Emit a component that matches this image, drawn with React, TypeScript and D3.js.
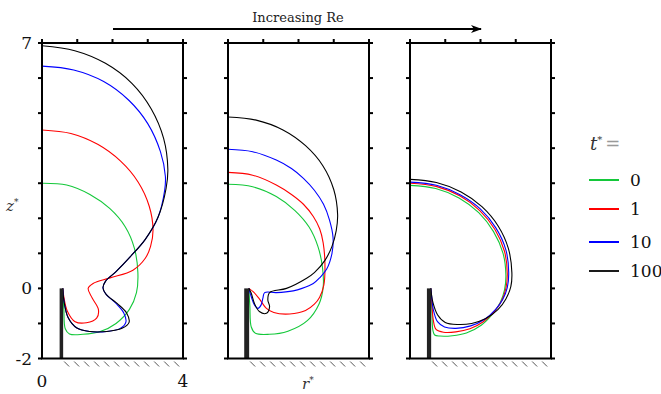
import React from "react";
import * as d3 from "d3";

type P = [number, number];

const xTicks = [0, 1, 2, 3, 4];
const yTicks = [-2, -1, 0, 1, 2, 3, 4, 5, 6, 7];
const xTickLabels = ["0", "4"];
const yTickLabels = ["-2", "0", "7"];
const legendLabels = ["0", "1", "10", "100"];
const seriesColors = ["#14c83a", "#ff0000", "#0000ff", "#000000"];

// Panel 1 (lowest Re)
const p1Green: P[] = [[0, 3.0], [0.7, 2.95], [1.36, 2.68], [1.92, 2.28], [2.36, 1.76], [2.62, 1.15], [2.72, 0.45], [2.68, -0.12], [2.48, -0.6], [2.1, -1.0], [1.65, -1.23], [1.16, -1.31], [0.78, -1.3], [0.66, -1.15], [0.62, -0.6], [0.59, 0]];
const p1Red: P[] = [[0, 4.52], [0.82, 4.42], [1.58, 4.11], [2.23, 3.63], [2.73, 3.03], [3.04, 2.35], [3.15, 1.67], [3.08, 1.2], [2.93, 0.86], [2.58, 0.52], [1.93, 0.3], [1.45, 0.14], [1.31, 0.0], [1.42, -0.27], [1.6, -0.6], [1.55, -0.85], [1.26, -0.98], [0.94, -0.95], [0.72, -0.65], [0.62, -0.25], [0.59, 0]];
const p1Blue: P[] = [[0, 6.34], [0.9, 6.23], [1.75, 5.9], [2.47, 5.36], [3.0, 4.7], [3.36, 3.9], [3.5, 3.2], [3.48, 2.8], [3.28, 2.0], [2.93, 1.4], [2.5, 0.9], [2.1, 0.48], [1.8, 0.2], [1.73, 0.02], [1.82, -0.17], [2.1, -0.43], [2.32, -0.7], [2.38, -0.96], [2.22, -1.14], [1.84, -1.23], [1.36, -1.23], [0.99, -1.13], [0.74, -0.83], [0.62, -0.34], [0.59, 0]];
const p1Black: P[] = [[0, 6.92], [0.93, 6.78], [1.8, 6.42], [2.55, 5.85], [3.1, 5.12], [3.45, 4.28], [3.57, 3.4], [3.52, 2.85], [3.3, 2.05], [2.93, 1.4], [2.5, 0.9], [2.1, 0.48], [1.8, 0.2], [1.73, 0.02], [1.82, -0.17], [2.13, -0.43], [2.4, -0.7], [2.47, -0.97], [2.27, -1.14], [1.84, -1.23], [1.36, -1.23], [0.99, -1.13], [0.74, -0.83], [0.62, -0.34], [0.59, 0]];

// Panel 2
const p2Green: P[] = [[0, 2.97], [0.7, 2.9], [1.37, 2.62], [1.9, 2.22], [2.3, 1.75], [2.55, 1.2], [2.68, 0.6], [2.7, 0.03], [2.58, -0.45], [2.25, -0.92], [1.7, -1.22], [1.17, -1.31], [0.78, -1.28], [0.66, -1.1], [0.62, -0.5], [0.59, 0]];
const p2Red: P[] = [[0, 3.31], [0.7, 3.23], [1.37, 2.95], [1.8, 2.68], [2.14, 2.4], [2.42, 2.05], [2.6, 1.7], [2.7, 1.3], [2.75, 0.7], [2.72, 0.1], [2.6, -0.25], [2.45, -0.45], [2.2, -0.63], [1.75, -0.73], [1.3, -0.69], [1.09, -0.57], [0.89, -0.3], [0.72, -0.1], [0.59, 0]];
const p2Blue: P[] = [[0, 3.97], [0.7, 3.9], [1.37, 3.66], [1.8, 3.42], [2.14, 3.14], [2.45, 2.8], [2.71, 2.4], [2.88, 1.95], [2.98, 1.45], [2.95, 1.0], [2.8, 0.55], [2.6, 0.3], [2.42, 0.14], [2.1, 0.0], [1.85, -0.07], [1.37, -0.12], [1.04, -0.12], [0.99, -0.28], [0.94, -0.47], [0.85, -0.57], [0.75, -0.47], [0.66, -0.24], [0.59, 0]];
const p2Black: P[] = [[0, 4.89], [0.8, 4.8], [1.56, 4.52], [2.2, 4.07], [2.69, 3.5], [3.0, 2.82], [3.11, 2.1], [3.07, 1.65], [2.95, 1.2], [2.75, 0.8], [2.45, 0.45], [2.23, 0.29], [1.66, 0.0], [1.18, -0.12], [1.13, -0.33], [1.18, -0.52], [1.09, -0.71], [0.89, -0.66], [0.75, -0.43], [0.66, -0.14], [0.59, 0]];

// Panel 3 (highest Re)
const p3Green: P[] = [[0, 2.94], [0.73, 2.85], [1.39, 2.58], [1.95, 2.16], [2.37, 1.62], [2.64, 1.0], [2.72, 0.38], [2.68, -0.05], [2.56, -0.4], [2.35, -0.72], [2.02, -1.05], [1.6, -1.27], [1.2, -1.35], [0.85, -1.36], [0.7, -1.33], [0.65, -1.2], [0.62, -0.6], [0.59, 0]];
const p3Red: P[] = [[0, 3.0], [0.74, 2.91], [1.41, 2.64], [1.98, 2.22], [2.41, 1.68], [2.68, 1.06], [2.76, 0.42], [2.72, 0.0], [2.6, -0.35], [2.4, -0.65], [2.08, -0.95], [1.7, -1.15], [1.3, -1.24], [0.95, -1.25], [0.74, -1.17], [0.66, -0.9], [0.62, -0.4], [0.59, 0]];
const p3Blue: P[] = [[0, 3.03], [0.75, 2.94], [1.42, 2.67], [2.0, 2.26], [2.44, 1.72], [2.72, 1.1], [2.8, 0.45], [2.76, 0.02], [2.63, -0.32], [2.43, -0.6], [2.12, -0.88], [1.72, -1.07], [1.3, -1.14], [0.98, -1.1], [0.78, -0.95], [0.66, -0.6], [0.61, -0.2], [0.59, 0]];
const p3Black: P[] = [[0, 3.11], [0.75, 3.02], [1.45, 2.75], [2.04, 2.33], [2.5, 1.78], [2.79, 1.14], [2.89, 0.45], [2.86, 0.05], [2.72, -0.3], [2.5, -0.6], [2.15, -0.86], [1.75, -1.0], [1.35, -1.03], [1.0, -0.97], [0.78, -0.75], [0.65, -0.4], [0.6, -0.1], [0.59, 0]];

const panelCurves: P[][][] = [
  [p1Green, p1Red, p1Blue, p1Black],
  [p2Green, p2Red, p2Blue, p2Black],
  [p3Green, p3Red, p3Blue, p3Black],
];
// nozzle (inner radius, outer radius)
const nozzles: P[] = [[0.5, 0.6], [0.46, 0.6], [0.48, 0.6]];

const panelLefts = [42, 228, 410];
const panelWidth = 141;
const top = 43;
const bottom = 358.5;

const serif = "DejaVu Serif, Liberation Serif, serif";

function Panel({ idx }: { idx: number }) {
  const left = panelLefts[idx];
  const x = d3.scaleLinear().domain([0, 4]).range([left, left + panelWidth]);
  const y = d3.scaleLinear().domain([-2, 7]).range([bottom, top]);
  const line = d3
    .line<P>()
    .x((d) => x(d[0]))
    .y((d) => y(d[1]))
    .curve(d3.curveCatmullRom.alpha(0.5));
  const [n0, n1] = nozzles[idx];
  const hatchStart = x(n1) + 1;
  const hatches: number[] = [];
  for (let h = hatchStart; h <= x(4) - 2; h += 10) hatches.push(h);
  return (
    <g>
      {hatches.map((h, i) => (
        <line key={"h" + i} x1={h} y1={bottom + 3} x2={h + 5} y2={bottom + 8} stroke="#555" strokeWidth={1} />
      ))}
      {panelCurves[idx].map((c, i) => (
        <path key={"c" + i} d={line(c) || ""} fill="none" stroke={seriesColors[i]} strokeWidth={1.1} />
      ))}
      <rect x={x(n0)} y={y(0)} width={x(n1) - x(n0)} height={y(-2) - y(0)} fill="#222" />
      <rect x={x(0)} y={top} width={panelWidth} height={bottom - top} fill="none" stroke="#000" strokeWidth={2} />
      {xTicks.map((t) => (
        <line key={"xt" + t} x1={x(t)} x2={x(t)} y1={top} y2={top - 4} stroke="#000" strokeWidth={2} />
      ))}
      {yTicks.map((t) => (
        <g key={"yt" + t}>
          <line x1={x(0)} x2={x(0) - 4} y1={y(t)} y2={y(t)} stroke="#000" strokeWidth={2} />
          <line x1={x(4)} x2={x(4) + 4} y1={y(t)} y2={y(t)} stroke="#000" strokeWidth={2} />
        </g>
      ))}
      {idx === 0 && (
        <g style={{ fontFamily: serif }} fontSize={17} fill="#111">
          {yTickLabels.map((l) => (
            <text key={"yl" + l} x={x(0) - 10} y={y(+l) + 6} textAnchor="end">{l}</text>
          ))}
          {xTickLabels.map((l) => (
            <text key={"xl" + l} x={x(+l)} y={387} textAnchor="middle">{l}</text>
          ))}
        </g>
      )}
    </g>
  );
}

export default function App() {
  const legendY = [180, 209, 242, 271];
  return (
    <svg width={661} height={394} style={{ position: "absolute", left: 0, top: 0, background: "#fff" }}>
      <rect x={0} y={0} width={661} height={394} fill="#fff" />
      {[0, 1, 2].map((i) => (
        <Panel key={i} idx={i} />
      ))}
      <defs>
        <marker id="ah" markerWidth={12} markerHeight={10} refX={10} refY={5} orient="auto" markerUnits="userSpaceOnUse">
          <path d="M0,1 L11,5 L0,9 L3,5 Z" fill="#000" />
        </marker>
      </defs>
      <line x1={113} y1={29} x2={481} y2={29} stroke="#000" strokeWidth={2} markerEnd="url(#ah)" />
      <text x={298} y={22} textAnchor="middle" style={{ fontFamily: serif }} fontSize={13} fill="#222">Increasing Re</text>
      <text x={6} y={211} style={{ fontFamily: serif }} fontSize={15} fontStyle="italic" fill="#333">
        z<tspan dy={-6} fontSize={9} fontStyle="normal">*</tspan>
      </text>
      <text x={302} y={389} style={{ fontFamily: serif }} fontSize={15} fontStyle="italic" fill="#333">
        r<tspan dy={-6} fontSize={9} fontStyle="normal">*</tspan>
      </text>
      <text x={590} y={150} style={{ fontFamily: serif }} fontSize={18} fill="#333">
        <tspan fontStyle="italic">t</tspan>
        <tspan dy={-7} fontSize={10}>*</tspan>
        <tspan dy={7} dx={3} fill="#999">=</tspan>
      </text>
      {legendLabels.map((l, i) => (
        <g key={"lg" + i}>
          <line x1={589} x2={619} y1={legendY[i]} y2={legendY[i]} stroke={seriesColors[i]} strokeWidth={i === 3 ? 1.8 : 2} />
          <text x={630} y={legendY[i] + 6} style={{ fontFamily: serif }} fontSize={17} fill="#111">{l}</text>
        </g>
      ))}
    </svg>
  );
}
